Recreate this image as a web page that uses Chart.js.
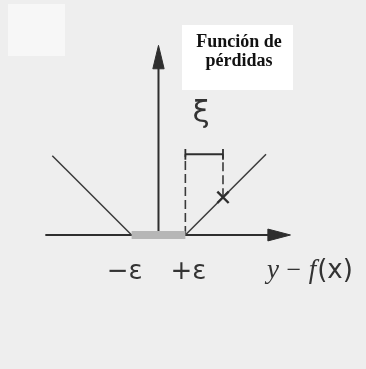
<!DOCTYPE html>
<html>
<head>
<meta charset="utf-8">
<script src="https://cdn.jsdelivr.net/npm/chart.js@4/dist/chart.umd.min.js"></script>
<style>
  html, body { margin: 0; padding: 0; background: #eeeeee; }
  #wrap { position: relative; width: 366px; height: 369px; }
</style>
</head>
<body>
<div id="wrap"><canvas id="c"></canvas></div>
<script>
// Epsilon-insensitive loss: zero inside [-ε, +ε], linear outside. Units: ε = 1.
const titleLines = ['Función de', 'pérdidas'];
const tickLabels = ['−ε', '+ε'];
const tickValues = [-1, 1];
const slackLabel = 'ξ';

const lossLeft = [[-3.95, 2.95], [-1, 0]];
const lossRight = [[1, 0], [4.0, 3.0]];
const insensitiveBand = [[-1, 0], [1, 0]];
const xAxisLine = [[-4.21, 0], [4.3, 0]];
const xArrowHead = [[4.07, 0.22], [4.91, 0], [4.07, -0.22], [4.07, 0.22]];
const yAxisLine = [[0, 0], [0, 6.4]];
const yArrowHead = [[-0.21, 6.18], [0, 7.05], [0.21, 6.18], [-0.21, 6.18]];
const samplePoint = [[2.4, 1.4]];
const slackBracket = [[1, 3.0], [2.4, 3.0]];
const bracketTickL = [[1, 2.8], [1, 3.2]];
const bracketTickR = [[2.4, 2.8], [2.4, 3.2]];
const dashLeft = [[1, 0], [1, 3.0]];
const dashRight = [[2.4, 1.4], [2.4, 3.0]];

const pts = a => a.map(([x, y]) => ({ x, y }));
const INK = '#2e2e2e';

function seg(data, opts) {
  return Object.assign({
    data: pts(data), showLine: true, pointRadius: 0, borderColor: INK,
    borderWidth: 2, fill: false, tension: 0
  }, opts || {});
}

const datasets = [
  seg(insensitiveBand, { borderColor: '#b6b6b6', borderWidth: 8, borderCapStyle: 'butt', order: 0 }),
  seg(samplePoint, { showLine: false, pointRadius: 8, pointStyle: 'crossRot', pointBorderColor: INK, pointBorderWidth: 2.4, order: 1 }),
  seg(lossLeft, { borderWidth: 1.5, borderColor: '#3a3a3a', order: 2 }),
  seg(lossRight, { borderWidth: 1.5, borderColor: '#3a3a3a', order: 2 }),
  seg(xAxisLine, { order: 3 }),
  seg(xArrowHead, { borderWidth: 1, fill: 'shape', backgroundColor: INK, order: 3 }),
  seg(yAxisLine, { order: 3 }),
  seg(yArrowHead, { borderWidth: 1, fill: 'shape', backgroundColor: INK, order: 3 }),
  seg(slackBracket, { order: 4 }),
  seg(bracketTickL, { borderWidth: 1.8, order: 4 }),
  seg(bracketTickR, { borderWidth: 1.8, order: 4 }),
  seg(dashLeft, { borderWidth: 1.6, borderDash: [9, 4], borderColor: '#3a3a3a', order: 4 }),
  seg(dashRight, { borderWidth: 1.6, borderDash: [9, 4], borderColor: '#3a3a3a', order: 4 })
];

const backdrop = {
  id: 'backdrop',
  beforeDraw(chart) {
    const ctx = chart.ctx;
    ctx.save();
    ctx.fillStyle = '#eeeeee';
    ctx.fillRect(0, 0, chart.width, chart.height);
    ctx.fillStyle = '#f7f7f7';
    ctx.fillRect(8, 4, 57, 52);
    ctx.fillStyle = '#ffffff';
    ctx.fillRect(182, 25, 111, 65);
    ctx.restore();
  }
};

const annotations = {
  id: 'annotations',
  afterDraw(chart) {
    const ctx = chart.ctx;
    const xs = chart.scales.x;
    ctx.save();
    ctx.fillStyle = '#111';
    ctx.textAlign = 'center';
    ctx.textBaseline = 'alphabetic';

    // title in the white box
    ctx.font = 'bold 18px "Liberation Serif", serif';
    ctx.fillText(titleLines[0], 239, 47);
    ctx.fillText(titleLines[1], 239, 66);

    // slack label above the bracket
    ctx.fillStyle = '#333';
    ctx.font = '31px "DejaVu Sans", sans-serif';
    ctx.fillText(slackLabel, xs.getPixelForValue((slackBracket[0][0] + slackBracket[1][0]) / 2) - 3, 122);

    // ±ε ticks
    ctx.font = '26px "DejaVu Sans", sans-serif';
    tickLabels.forEach((t, i) => {
      ctx.fillText(t, xs.getPixelForValue(tickValues[i]) + (i === 0 ? -7 : 3), 279);
    });

    // axis title y − f(x)
    const parts = [
      ['y', 'italic 27px "Liberation Serif", serif'],
      [' − ', '26px "Liberation Serif", serif'],
      ['f', 'italic 27px "Liberation Serif", serif'],
      ['(x)', '26px "DejaVu Sans", sans-serif']
    ];
    ctx.textAlign = 'left';
    let x = 267;
    parts.forEach(([s, f]) => {
      ctx.font = f;
      ctx.fillText(s, x, 278);
      x += ctx.measureText(s).width + 1;
    });
    ctx.restore();
  }
};

new Chart(document.getElementById('c'), {
  type: 'scatter',
  data: { datasets },
  options: {
    responsive: true,
    maintainAspectRatio: false,
    animation: false,
    events: [],
    layout: { padding: 0 },
    plugins: { legend: { display: false }, tooltip: { enabled: false }, title: { display: false } },
    scales: {
      x: { type: 'linear', display: false, min: -5.509, max: 7.333 },
      y: { type: 'linear', display: false, min: -4.596, max: 8.351 }
    }
  },
  plugins: [backdrop, annotations]
});
</script>
</body>
</html>
